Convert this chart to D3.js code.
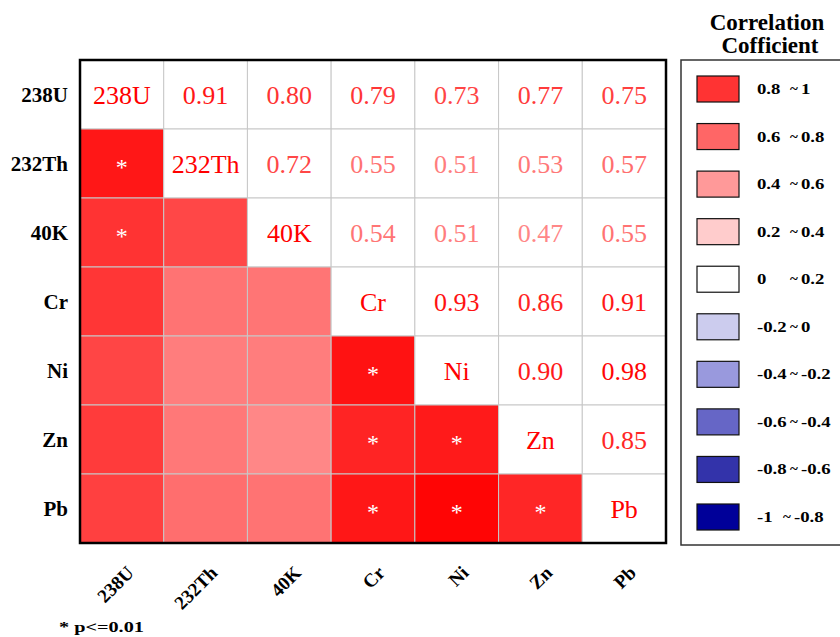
<!DOCTYPE html>
<html>
<head>
<meta charset="utf-8">
<script src="https://cdn.jsdelivr.net/npm/d3@7"></script>
<style>
  html, body { margin: 0; padding: 0; background: #fff; }
  svg { display: block; }
</style>
</head>
<body>
<svg id="chart" width="840" height="637"></svg>
<script>
// ---- data ----
const variables = ["238U", "232Th", "40K", "Cr", "Ni", "Zn", "Pb"];
// correlation of row variable with each earlier (column) variable
const corr232Th = [0.91];
const corr40K   = [0.80, 0.72];
const corrCr    = [0.79, 0.55, 0.54];
const corrNi    = [0.73, 0.51, 0.51, 0.93];
const corrZn    = [0.77, 0.53, 0.47, 0.86, 0.90];
const corrPb    = [0.75, 0.57, 0.55, 0.91, 0.98, 0.85];
const lowerRows = [[], corr232Th, corr40K, corrCr, corrNi, corrZn, corrPb];
// significant pairs (p <= 0.01): [row, column]
const significant = [["232Th","238U"],["40K","238U"],["Ni","Cr"],["Zn","Cr"],["Zn","Ni"],["Pb","Cr"],["Pb","Ni"],["Pb","Zn"]];
const legendFrom = ["0.8", "0.6", "0.4", "0.2", "0", "-0.2", "-0.4", "-0.6", "-0.8", "-1"];
const legendTo   = ["1", "0.8", "0.6", "0.4", "0.2", "0", "-0.2", "-0.4", "-0.6", "-0.8"];
const legendColors = ["#ff3333", "#ff6666", "#ff9999", "#ffcccc", "#ffffff",
                      "#ccccee", "#9999dd", "#6666c6", "#3333aa", "#000099"];
const legendTitle = ["Correlation", "Cofficient"];
const footnote = "* p<=0.01";

const FONT = '"Liberation Serif"';

// ---- build cells ----
const cells = [];
variables.forEach((r, i) => {
  variables.forEach((c, j) => {
    if (i === j) cells.push({row: r, col: c, type: "diag"});
    else if (i > j) cells.push({row: r, col: c, type: "lower", v: lowerRows[i][j]});
    else cells.push({row: r, col: c, type: "upper", v: lowerRows[j][i]});
  });
});
const sigSet = new Set(significant.map(d => d[0] + "|" + d[1]));

const svg = d3.select("#chart");
const pL = 80, pR = 666, pT = 60, pB = 543;
const x = d3.scaleBand().domain(variables).range([pL, pR]);
const y = d3.scaleBand().domain(variables).range([pT, pB]);
const color = d3.scaleLinear().domain([0, 1]).range(["#ffffff", "#ff0000"]);

const g = svg.append("g");
g.selectAll("rect.cell").data(cells).join("rect")
  .attr("class", "cell")
  .attr("x", d => x(d.col)).attr("y", d => y(d.row))
  .attr("width", x.bandwidth()).attr("height", y.bandwidth())
  .attr("fill", d => d.type === "lower" ? color(d.v) : "#ffffff")
  .attr("stroke", "#c8c8c8").attr("stroke-width", 1);

// text in cells
g.selectAll("text.val").data(cells.filter(d => d.type !== "lower")).join("text")
  .attr("class", "val")
  .style("font-family", FONT)
  .attr("x", d => x(d.col) + x.bandwidth() / 2)
  .attr("y", d => y(d.row) + y.bandwidth() / 2 + 9)
  .attr("text-anchor", "middle")
  .attr("font-size", 26)
  .attr("fill", d => d.type === "diag" ? "#ff0000" : color(d.v))
  .text(d => d.type === "diag" ? d.row : d.v.toFixed(2));

g.selectAll("text.sig").data(cells.filter(d => d.type === "lower" && sigSet.has(d.row + "|" + d.col))).join("text")
  .attr("class", "sig")
  .style("font-family", FONT)
  .attr("x", d => x(d.col) + x.bandwidth() / 2)
  .attr("y", d => y(d.row) + y.bandwidth() / 2 + 11)
  .attr("text-anchor", "middle")
  .attr("font-size", 24)
  .attr("fill", "#ffffff")
  .text("*");

// border
svg.append("rect")
  .attr("x", pL).attr("y", pT)
  .attr("width", pR - pL).attr("height", pB - pT)
  .attr("fill", "none").attr("stroke", "#000").attr("stroke-width", 2.5);

// y labels
svg.selectAll("text.ylab").data(variables).join("text")
  .attr("class", "ylab")
  .style("font-family", FONT)
  .attr("x", 68)
  .attr("y", d => y(d) + y.bandwidth() / 2 + 7)
  .attr("text-anchor", "end")
  .attr("font-size", 21).attr("font-weight", "bold")
  .attr("fill", "#000")
  .text(d => d);

// x labels
svg.selectAll("text.xlab").data(variables).join("text")
  .attr("class", "xlab")
  .style("font-family", FONT)
  .attr("transform", d => `translate(${x(d) + x.bandwidth() / 2 + 13},${574}) rotate(-45)`)
  .attr("text-anchor", "end")
  .attr("font-size", 19).attr("font-weight", "bold")
  .attr("fill", "#000")
  .text(d => d);

// footnote (horizontally stretched like the reference)
svg.append("text")
  .style("font-family", FONT)
  .attr("transform", "translate(59,632) scale(1.35,1)")
  .attr("font-size", 15).attr("font-weight", "bold")
  .attr("fill", "#000")
  .text(footnote);

// legend
const lg = svg.append("g");
lg.append("rect")
  .attr("x", 681).attr("y", 60).attr("width", 200).attr("height", 485)
  .attr("fill", "#fff").attr("stroke", "#333").attr("stroke-width", 1.5);
lg.selectAll("text.title").data(legendTitle).join("text")
  .attr("class", "title")
  .style("font-family", FONT)
  .attr("x", (d, i) => i === 0 ? 767 : 770).attr("y", (d, i) => 30 + i * 23)
  .attr("text-anchor", "middle")
  .attr("font-size", 23).attr("font-weight", "bold")
  .attr("fill", "#000")
  .text(d => d);
const ly = d3.scaleLinear().domain([0, legendColors.length - 1]).range([76, 504]);
lg.selectAll("rect.sw").data(legendColors).join("rect")
  .attr("class", "sw")
  .attr("x", 697).attr("y", (d, i) => ly(i))
  .attr("width", 42).attr("height", 26)
  .attr("fill", d => d).attr("stroke", "#111").attr("stroke-width", 1.2);
const lt = lg.selectAll("g.lab").data(legendFrom).join("g").attr("class", "lab")
  .attr("transform", (d, i) => `translate(0,${ly(i) + 18})`);
const last = legendFrom.length - 1;
const addLab = (xpos, sx, txt) => lt.append("text")
  .style("font-family", FONT)
  .attr("transform", (d, i) => `translate(${xpos(i)},0) scale(${sx},1)`)
  .attr("font-size", 15).attr("font-weight", "bold").attr("fill", "#000")
  .text(txt);
addLab(() => 757, 1.25, d => d);
addLab(i => i === last ? 783 : 790, 1.0, () => "~");
addLab(i => i === last ? 794 : 801, 1.25, (d, i) => legendTo[i]);
</script>
</body>
</html>
